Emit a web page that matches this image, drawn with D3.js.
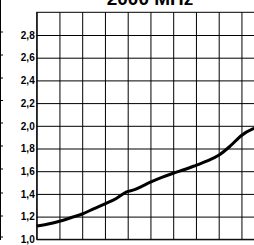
<!DOCTYPE html>
<html>
<head>
<meta charset="utf-8">
<script src="https://cdn.jsdelivr.net/npm/d3@7"></script>
<style>
html,body{margin:0;padding:0;background:#fff;overflow:hidden;}
svg{display:block;}
</style>
</head>
<body>
<svg id="c" width="254" height="245"></svg>
<script>
const title = "2000 MHz";
const xTicks = [0,1,2,3,4,5,6,7,8,9,10];
const yTicks = [1.0,1.2,1.4,1.6,1.8,2.0,2.2,2.4,2.6,2.8];
const xs = [0,0.5,1,1.5,2,2.5,3,3.5,3.95,4.3,4.6,5,5.5,6,6.5,7,7.5,8,8.5,9,9.5,10];
const vals = [1.117,1.135,1.159,1.19,1.223,1.268,1.312,1.36,1.418,1.437,1.465,1.503,1.545,1.582,1.615,1.652,1.69,1.74,1.82,1.915,1.972,2.0];
const neighborTicks = [32,55,78,100.5,123,146,169,193,216,237];

const svg = d3.select("#c");
const x = d3.scaleLinear().domain([0,10]).range([36.7,264.2]);
const y = d3.scaleLinear().domain([1,3]).range([239.3,12.3]);

// neighbour chart edge (cropped)
svg.append("line").attr("x1",0.5).attr("x2",0.5).attr("y1",0).attr("y2",240)
  .attr("stroke","#000").attr("stroke-width",1);
svg.selectAll("line.nt").data(neighborTicks).enter().append("line")
  .attr("class","nt").attr("x1",0).attr("x2",3).attr("y1",d=>d).attr("y2",d=>d)
  .attr("stroke","#000").attr("stroke-width",1);

// vertical grid
svg.append("g").attr("transform",`translate(0,${y(1)})`)
  .call(d3.axisBottom(x).tickValues(xTicks).tickSize(-(y(1)-y(3))).tickFormat(""))
  .call(g=>{g.select(".domain").remove();g.selectAll("line").attr("stroke","#000");});

// horizontal grid + labels
const fmt = d3.format(".1f");
svg.append("g").attr("transform",`translate(${x(0)},0)`)
  .call(d3.axisLeft(y).tickValues(yTicks).tickSize(-(x(10)-x(0))).tickPadding(2).tickFormat(d=>fmt(d).replace(".",",")))
  .call(g=>{
    g.select(".domain").remove();
    g.selectAll("line").attr("stroke","#000");
    g.selectAll("text").attr("font-family","'Liberation Sans',Arial,sans-serif")
      .attr("font-weight","bold").attr("font-size","10px").attr("fill","#000");
  });

// frame
svg.append("rect").attr("x",x(0)).attr("y",y(3)).attr("width",x(10)-x(0)).attr("height",y(1)-y(3))
  .attr("fill","none").attr("stroke","#000").attr("stroke-width",1);

// curve
const line = d3.line().x((d,i)=>x(xs[i])).y(d=>y(d)).curve(d3.curveMonotoneX);
svg.append("path").attr("d",line(vals)).attr("fill","none")
  .attr("stroke","#000").attr("stroke-width",3).attr("stroke-linejoin","round");

// title
svg.append("text").attr("x",150).attr("y",4.5).attr("text-anchor","middle")
  .attr("font-family","'Liberation Sans',Arial,sans-serif").attr("font-weight","bold")
  .attr("font-size","19px").attr("fill","#000").text(title);
</script>
</body>
</html>
